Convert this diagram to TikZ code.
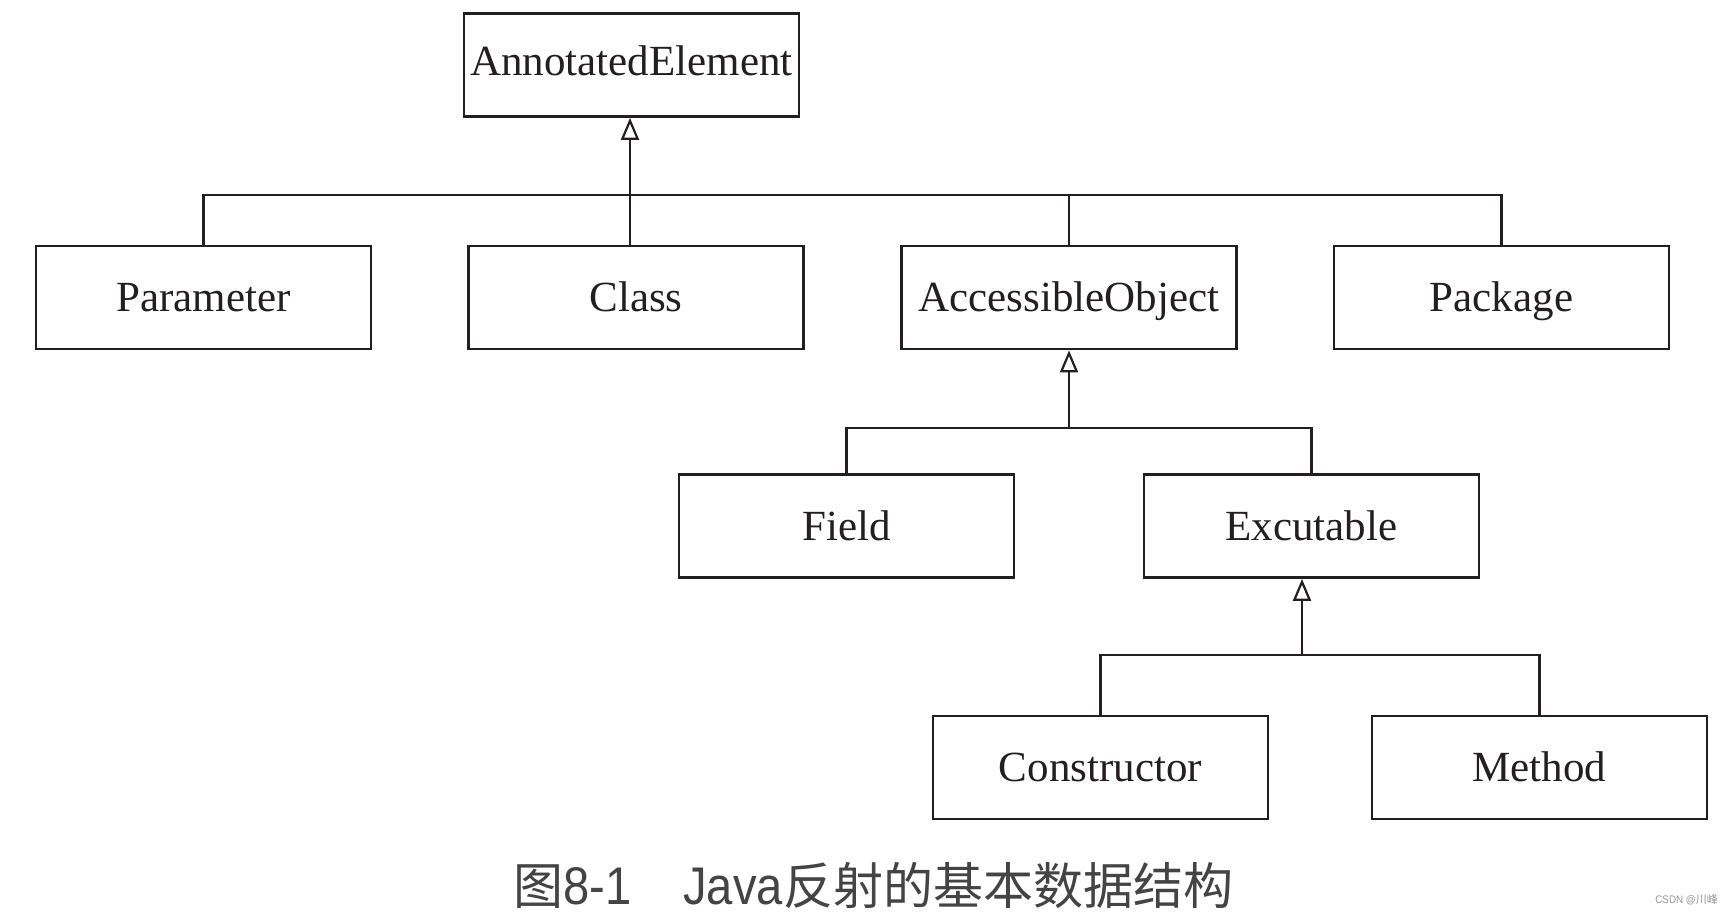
\documentclass[tikz,border=0pt]{standalone}
\usepackage{fontspec}
\setmainfont{Liberation Serif}
\newfontfamily\cjk{Noto Sans CJK SC}
\newfontfamily\latin[FakeStretch=0.89]{Liberation Sans}
\usetikzlibrary{arrows.meta}
\definecolor{capgray}{RGB}{68,68,68}
\definecolor{wmgray}{RGB}{150,150,150}
\definecolor{ink}{RGB}{35,31,32}
\tikzset{
  cls/.style={draw=ink, line width=2.8pt, minimum width=335pt, minimum height=103pt,
    inner sep=0pt, text height=28.5pt, text depth=0pt,
    font=\fontsize{43}{50}\selectfont, text=ink},
  conn/.style={draw=ink, line width=2.4pt},
  inh/.style={conn, -{Triangle[open, length=22pt, width=18pt, line width=2.2pt]}},
}
\begin{document}
\begin{tikzpicture}[x=1pt, y=-1pt]
\useasboundingbox (0,0) rectangle (1733,914);
% boxes
\node[cls, text depth=8pt] (ae)  at (631.5, 65)   {AnnotatedElement};
\node[cls] (par) at (203.5, 297.5) {Parameter};
\node[cls] (cls) at (636,   297.5) {Class};
\node[cls] (acc) at (1069,  297.5) {AccessibleObject};
\node[cls] (pkg) at (1501.5,297.5) {Package};
\node[cls] (fld) at (846.5, 526)   {Field};
\node[cls] (exc) at (1311.5,526)   {Excutable};
\node[cls] (con) at (1100.5,767.5) {Constructor};
\node[cls] (met) at (1539.5,767.5) {Method};
% bus levels
\coordinate (bus1) at (0,195);
\coordinate (bus2) at (0,428);
\coordinate (bus3) at (0,655);
\coordinate (a1) at (630,195);
\coordinate (a3) at (1302,655);
% level 1
\draw[conn] (par.north) -- (par.north |- bus1) -- (pkg.north |- bus1) -- (pkg.north);
\draw[conn] (acc.north) -- (acc.north |- bus1);
\draw[inh] (cls.north -| a1) -- (ae.south -| a1);
% level 2
\draw[conn] (fld.north) -- (fld.north |- bus2) -- (exc.north |- bus2) -- (exc.north);
\draw[inh] (acc.south |- bus2) -- (acc.south);
% level 3
\draw[conn] (con.north) -- (con.north |- bus3) -- (met.north |- bus3) -- (met.north);
\draw[inh] (a3) -- (exc.south -| a3);
% caption
\node[anchor=base west, inner sep=0pt, text=capgray] (cap) at (513, 904)
  {\fontsize{50}{55}\selectfont\cjk 图{\fontsize{53}{50}\selectfont\latin 8-1\hspace{52pt}Java}反射的基本数据结构};
\node[anchor=base east, inner sep=0pt, text=wmgray, font=\fontsize{11}{12}\selectfont\latin] (wm) at (1718, 903) {CSDN @{\cjk 川峰}};
\end{tikzpicture}
\end{document}
